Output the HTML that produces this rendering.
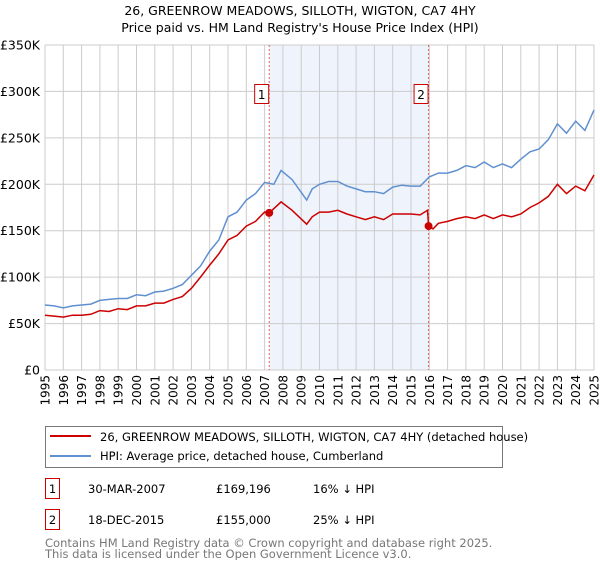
<!DOCTYPE html>
<html><head><meta charset="utf-8"><style>
body{margin:0;background:#fff;font-family:"Liberation Sans","DejaVu Sans",sans-serif;}
svg text{font-family:"DejaVu Sans","Liberation Sans",sans-serif;}
</style></head><body>
<svg id="c" width="600" height="560" xmlns="http://www.w3.org/2000/svg">
<text x="300" y="15" text-anchor="middle" font-size="12.5" fill="#000">26, GREENROW MEADOWS, SILLOTH, WIGTON, CA7 4HY</text>
<text x="300" y="32" text-anchor="middle" font-size="12.5" fill="#000">Price paid vs. HM Land Registry's House Price Index (HPI)</text>
<g id="plot"></g>
<rect x="45.5" y="426.5" width="457" height="41" fill="#fff" stroke="#777"/>
<line x1="50" y1="436" x2="91" y2="436" stroke="#cc0000" stroke-width="2"/>
<text x="100" y="441" font-size="11.5">26, GREENROW MEADOWS, SILLOTH, WIGTON, CA7 4HY (detached house)</text>
<line x1="50" y1="456" x2="91" y2="456" stroke="#6090d0" stroke-width="2"/>
<text x="100" y="460" font-size="11.5">HPI: Average price, detached house, Cumberland</text>
<g>
<rect x="45.5" y="478.5" width="14" height="20" fill="#fff" stroke="#cc0000"/>
<text x="52.5" y="493" text-anchor="middle" font-size="11.5">1</text>
<text x="88" y="493" font-size="11.5">30-MAR-2007</text>
<text x="216" y="493" font-size="11.5">£169,196</text>
<text x="313" y="493" font-size="11.5">16% ↓ HPI</text></g>
<g>
<rect x="45.5" y="509.5" width="14" height="20" fill="#fff" stroke="#cc0000"/>
<text x="52.5" y="524" text-anchor="middle" font-size="11.5">2</text>
<text x="88" y="524" font-size="11.5">18-DEC-2015</text>
<text x="216" y="524" font-size="11.5">£155,000</text>
<text x="313" y="524" font-size="11.5">25% ↓ HPI</text></g>
<text x="45" y="558" font-size="11.5" fill="#777">This data is licensed under the Open Government Licence v3.0.</text>
<text x="45" y="547" font-size="11.5" fill="#777">Contains HM Land Registry data © Crown copyright and database right 2025.</text>
</svg>
<script>
const hpiYears=[1995,1995.5,1996,1996.5,1997,1997.5,1998,1998.5,1999,1999.5,2000,2000.5,2001,2001.5,2002,2002.5,2003,2003.5,2004,2004.5,2005,2005.5,2006,2006.5,2007,2007.5,2007.9,2008.5,2009.3,2009.6,2010,2010.5,2011,2011.5,2012,2012.5,2013,2013.5,2014,2014.5,2015,2015.5,2016,2016.5,2017,2017.5,2018,2018.5,2019,2019.5,2020,2020.5,2021,2021.5,2022,2022.5,2023,2023.5,2024,2024.5,2025];
const hpiValues=[70,69,67,69,70,71,75,76,77,77,81,80,84,85,88,92,102,112,128,140,165,170,183,190,202,200,215,205,183,195,200,203,203,198,195,192,192,190,197,199,198,198,208,212,212,215,220,218,224,218,222,218,227,235,238,248,265,255,268,258,280];
const priceYears=[1995,1995.5,1996,1996.5,1997,1997.5,1998,1998.5,1999,1999.5,2000,2000.5,2001,2001.5,2002,2002.5,2003,2003.5,2004,2004.5,2005,2005.5,2006,2006.5,2007,2007.25,2007.9,2008.5,2009.3,2009.6,2010,2010.5,2011,2011.5,2012,2012.5,2013,2013.5,2014,2014.5,2015,2015.5,2015.9,2015.96,2016.2,2016.5,2017,2017.5,2018,2018.5,2019,2019.5,2020,2020.5,2021,2021.5,2022,2022.5,2023,2023.5,2024,2024.5,2025];
const priceValues=[59,58,57,59,59,60,64,63,66,65,69,69,72,72,76,79,88,100,113,125,140,145,155,160,170,169.2,181,172,157,165,170,170,172,168,165,162,165,162,168,168,168,167,172,155,152,158,160,163,165,163,167,163,167,165,168,175,180,187,200,190,198,193,210];
const saleYears=[2007.25,2015.96];
const saleValues=[169.196,155];
const saleLabels=["1","2"];
const yTicks=[0,50,100,150,200,250,300,350];
const yTickLabels=["£0","£50K","£100K","£150K","£200K","£250K","£300K","£350K"];
const xTicks=[];for(let y=1995;y<=2025;y++)xTicks.push(y);
const L=45,R=594,T=45,B=370,Y0=1995,Y1=2025,VMAX=350;
const X=y=>L+(y-Y0)/(Y1-Y0)*(R-L);
const Y=v=>B-v/VMAX*(B-T);
const NS="http://www.w3.org/2000/svg";
const g=document.getElementById('plot');
function mk(t,a){const e=document.createElementNS(NS,t);for(const k in a)e.setAttribute(k,a[k]);g.appendChild(e);return e;}
let e=mk('rect',{x:X(saleYears[0]),y:T,width:X(saleYears[1])-X(saleYears[0]),height:B-T,fill:'#eef3fc'});


xTicks.forEach(y=>{let l=mk('line',{x1:X(y),x2:X(y),y1:T,y2:B,stroke:'#ccc'});


let t=mk('text',{x:0,y:0,'font-size':12,'text-anchor':'end',transform:`translate(${X(y)+4.5},${B+5}) rotate(-90)`});t.textContent=y;

});
yTicks.forEach((v,i)=>{let l=mk('line',{x1:L,x2:R,y1:Y(v),y2:Y(v),stroke:'#ccc'});


let t=mk('text',{x:L-5,y:Y(v)+4.5,'font-size':12.5,'text-anchor':'end'});t.textContent=yTickLabels[i];

});
saleYears.forEach((y,i)=>{let l=mk('line',{x1:X(y),x2:X(y),y1:T,y2:B,stroke:'#e06060','stroke-dasharray':'2,2'});

});
function path(xs,vs,c,n){let d=xs.map((y,i)=>(i?'L':'M')+X(y).toFixed(1)+','+Y(vs[i]).toFixed(1)).join('');
let p=mk('path',{d:d,fill:'none',stroke:c,'stroke-width':1.5});

}
path(hpiYears,hpiValues,'#6090d0','hpi-line');
path(priceYears,priceValues,'#cc0000','price-line');
saleYears.forEach((y,i)=>{let c=mk('circle',{cx:X(y),cy:Y(saleValues[i]),r:4,fill:'#cc0000'});


let r=mk('rect',{x:X(y)-14.5,y:84.5,width:14,height:19,fill:'#fff',stroke:'#cc0000'});


let t=mk('text',{x:X(y)-7.5,y:99,'font-size':12,'text-anchor':'middle'});t.textContent=saleLabels[i];

});
</script>
</body></html>
